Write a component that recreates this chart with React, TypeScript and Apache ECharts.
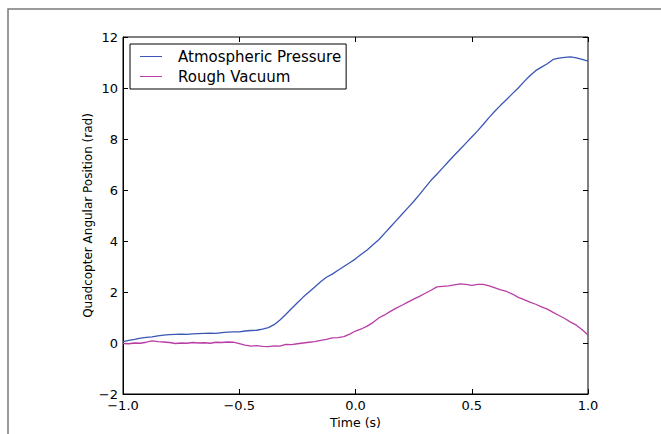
import React, { useEffect, useRef } from "react";
import * as echarts from "echarts";

const times: number[] = [
  -1.0, -0.975, -0.95, -0.925, -0.9, -0.875, -0.85, -0.825, -0.8, -0.775,
  -0.75, -0.725, -0.7, -0.675, -0.65, -0.625, -0.6, -0.575, -0.55, -0.525,
  -0.5, -0.475, -0.45, -0.425, -0.4, -0.375, -0.35, -0.325, -0.3, -0.275,
  -0.25, -0.225, -0.2, -0.175, -0.15, -0.125, -0.1, -0.075, -0.05, -0.025,
  0.0, 0.025, 0.05, 0.075, 0.1, 0.125, 0.15, 0.175, 0.2, 0.225,
  0.25, 0.275, 0.3, 0.325, 0.35, 0.375, 0.4, 0.425, 0.45, 0.475,
  0.5, 0.525, 0.55, 0.575, 0.6, 0.625, 0.65, 0.675, 0.7, 0.725,
  0.75, 0.775, 0.8, 0.825, 0.85, 0.875, 0.9, 0.925, 0.95, 0.975, 1.0,
];

const atmospheric: number[] = [
  0.05, 0.1, 0.14, 0.19, 0.22, 0.24, 0.28, 0.31, 0.33, 0.34,
  0.35, 0.34, 0.36, 0.37, 0.38, 0.39, 0.38, 0.41, 0.43, 0.44,
  0.44, 0.47, 0.49, 0.5, 0.54, 0.6, 0.72, 0.9, 1.12, 1.35,
  1.58, 1.8, 2.0, 2.2, 2.4, 2.58, 2.7, 2.85, 3.0, 3.15,
  3.3, 3.48, 3.65, 3.85, 4.05, 4.3, 4.55, 4.8, 5.05, 5.3,
  5.55, 5.82, 6.1, 6.38, 6.62, 6.87, 7.12, 7.36, 7.6, 7.84,
  8.08, 8.32, 8.58, 8.85, 9.1, 9.33, 9.55, 9.78, 10.0, 10.25,
  10.48, 10.68, 10.82, 10.95, 11.12, 11.17, 11.2, 11.22, 11.18, 11.12, 11.05,
];

const roughVacuum: number[] = [
  -0.02, -0.03, 0.0, -0.01, 0.03, 0.08, 0.05, 0.04, 0.02, -0.02,
  0.0, -0.01, 0.02, 0.0, 0.01, -0.01, 0.03, 0.02, 0.04, 0.03,
  -0.02, -0.08, -0.12, -0.1, -0.13, -0.14, -0.11, -0.12, -0.05, -0.06,
  -0.03, 0.0, 0.03, 0.05, 0.1, 0.14, 0.2, 0.21, 0.25, 0.35,
  0.47, 0.55, 0.66, 0.8, 0.98, 1.1, 1.24, 1.37, 1.48, 1.6,
  1.72, 1.83, 1.95, 2.07, 2.2, 2.22, 2.24, 2.28, 2.32, 2.3,
  2.26, 2.3, 2.3, 2.24, 2.16, 2.08, 2.02, 1.92, 1.79, 1.7,
  1.6, 1.52, 1.42, 1.33, 1.2, 1.08, 0.96, 0.82, 0.7, 0.52, 0.31,
];

const seriesNames: string[] = ["Atmospheric Pressure", "Rough Vacuum"];
const xTitle = "Time (s)";
const yTitle = "Quadcopter Angular Position (rad)";

const FONT = "DejaVu Sans";
const minus = (s: string) => s.replace("-", "\u2212");

export default function App() {
  const ref = useRef<HTMLDivElement>(null);
  useEffect(() => {
    if (!ref.current) return;
    const chart = echarts.init(ref.current, null, { renderer: "svg" });
    const tickCommon = {
      axisTick: { show: true, inside: true, length: 5, lineStyle: { color: "#000", width: 1 } },
      splitLine: { show: false },
    };
    chart.setOption({
      animation: false,
      backgroundColor: "#fff",
      textStyle: { fontFamily: FONT },
      graphic: [
        {
          type: "rect",
          shape: { x: 8, y: 9, width: 720, height: 500 },
          style: { fill: "none", stroke: "#7a7a7a", lineWidth: 1.5 },
          silent: true,
          z: 0,
        },
      ],
      grid: {
        left: 123,
        top: 37,
        width: 465,
        height: 360,
        show: true,
        borderColor: "#000",
        borderWidth: 1,
        backgroundColor: "transparent",
      },
      legend: {
        orient: "vertical",
        left: 130,
        top: 44,
        data: seriesNames,
        backgroundColor: "#fff",
        borderColor: "#000",
        borderWidth: 1,
        borderRadius: 0,
        padding: [5, 5, 5, 10],
        itemGap: 5,
        itemWidth: 22,
        itemHeight: 17,
        icon: "path://M0,8 L22,8 L22,9 L0,9 Z",
        textStyle: { fontFamily: FONT, fontSize: 15, color: "#000", padding: [0, 0, 0, 11] },
      },
      xAxis: [
        {
          type: "value",
          min: -1,
          max: 1,
          interval: 0.5,
          position: "bottom",
          name: xTitle,
          nameLocation: "middle",
          nameGap: 22,
          nameMoveOverlap: false,
          nameTextStyle: { fontFamily: FONT, fontSize: 12.5, color: "#000" },
          axisLine: { show: true, onZero: false, lineStyle: { color: "#000" } },
          axisLabel: {
            color: "#000",
            fontFamily: FONT,
            fontSize: 13,
            margin: 5,
            formatter: (v: number) => minus(v.toFixed(1)),
          },
          ...tickCommon,
        },
        {
          type: "value",
          min: -1,
          max: 1,
          interval: 0.5,
          position: "top",
          axisLine: { show: false, onZero: false },
          axisLabel: { show: false },
          ...tickCommon,
        },
      ],
      yAxis: [
        {
          type: "value",
          min: -2,
          max: 12,
          interval: 2,
          position: "left",
          name: yTitle,
          nameLocation: "middle",
          nameGap: 29,
          nameMoveOverlap: false,
          nameTextStyle: { fontFamily: FONT, fontSize: 12, color: "#000" },
          axisLine: { show: true, onZero: false, lineStyle: { color: "#000" } },
          axisLabel: {
            color: "#000",
            fontFamily: FONT,
            fontSize: 13,
            margin: 5,
            formatter: (v: number) => minus(String(v)),
          },
          ...tickCommon,
        },
        {
          type: "value",
          min: -2,
          max: 12,
          interval: 2,
          position: "right",
          axisLine: { show: false, onZero: false },
          axisLabel: { show: false },
          ...tickCommon,
        },
      ],
      series: [
        {
          name: seriesNames[0],
          type: "line",
          symbol: "none",
          data: times.map((t, i) => [t, atmospheric[i]]),
          lineStyle: { color: "#3a56b6", width: 1.3 },
          itemStyle: { color: "#3a56b6" },
        },
        {
          name: seriesNames[1],
          type: "line",
          symbol: "none",
          data: times.map((t, i) => [t, roughVacuum[i]]),
          lineStyle: { color: "#b83ea6", width: 1.3 },
          itemStyle: { color: "#b83ea6" },
        },
      ],
    });
    return () => chart.dispose();
  }, []);
  return (
    <div
      ref={ref}
      style={{ position: "absolute", left: 0, top: 0, width: 661, height: 434 }}
    />
  );
}
